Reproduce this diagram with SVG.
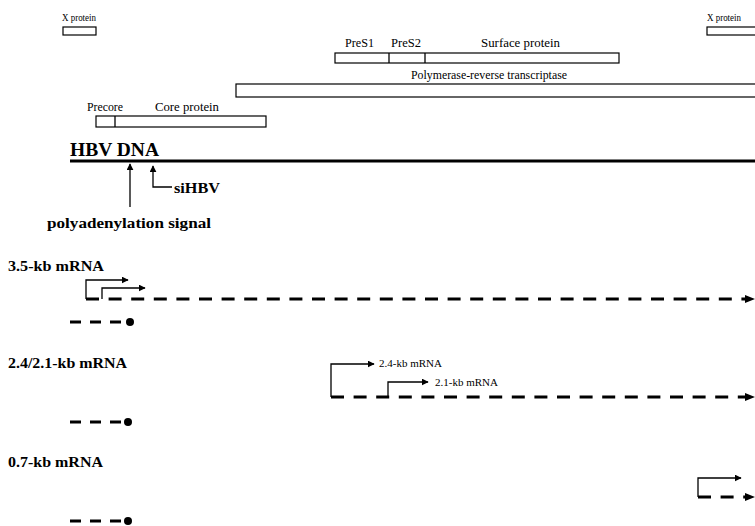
<svg xmlns="http://www.w3.org/2000/svg" width="755" height="526" viewBox="0 0 755 526">
<style>
.sm{font-family:"Liberation Serif","Times New Roman",serif;font-size:11.5px;fill:#000}
.bd{font-family:"Liberation Serif","Times New Roman",serif;font-size:15.5px;font-weight:bold;fill:#000}
.md{font-family:"Liberation Serif","Times New Roman",serif;font-size:11px;fill:#000}
.box{fill:#fff;stroke:#000;stroke-width:1.2}
.ln{fill:none;stroke:#000;stroke-width:1.3}
.ds{fill:none;stroke:#000;stroke-width:3;stroke-dasharray:13 9.6}
.sd{fill:none;stroke:#000;stroke-width:3;stroke-dasharray:11 9}
</style>
<defs>
<marker id="ah" viewBox="0 0 10 10" refX="9" refY="5" markerWidth="7" markerHeight="7" markerUnits="userSpaceOnUse" orient="auto"><path d="M0,0 L10,5 L0,10 z" fill="#000"/></marker>
</defs>
<g id="x-protein-left"><text class="sm" x="62" y="21" style="font-size:9.5px" textLength="34" lengthAdjust="spacingAndGlyphs">X protein</text><rect class="box" x="63" y="27" width="33" height="8"/></g>
<g id="x-protein-right"><text class="sm" x="707" y="21" style="font-size:9.5px" textLength="34" lengthAdjust="spacingAndGlyphs">X protein</text><rect class="box" x="707" y="27" width="60" height="8"/></g>
<g id="surface"><text class="sm" x="345" y="47" textLength="29" lengthAdjust="spacingAndGlyphs">PreS1</text><text class="sm" x="391" y="47" textLength="30" lengthAdjust="spacingAndGlyphs">PreS2</text><text class="sm" x="481" y="47" textLength="79" lengthAdjust="spacingAndGlyphs">Surface protein</text>
<rect class="box" x="335" y="53" width="284" height="10"/><line class="ln" x1="389" y1="53" x2="389" y2="63"/><line class="ln" x1="425" y1="53" x2="425" y2="63"/></g>
<g id="polymerase"><text class="sm" x="411" y="79" textLength="156" lengthAdjust="spacingAndGlyphs">Polymerase-reverse transcriptase</text><rect class="box" x="236" y="84" width="530" height="13"/></g>
<g id="core"><text class="sm" x="87" y="111" textLength="36" lengthAdjust="spacingAndGlyphs">Precore</text><text class="sm" x="155" y="111" textLength="64" lengthAdjust="spacingAndGlyphs">Core protein</text><rect class="box" x="96" y="116" width="170" height="11"/><line class="ln" x1="115" y1="116" x2="115" y2="127"/></g>
<g id="hbv-dna"><text class="bd" x="70" y="156" style="font-size:18.5px" textLength="89" lengthAdjust="spacingAndGlyphs">HBV DNA</text><line x1="70" y1="161" x2="755" y2="161" stroke="#000" stroke-width="3.2"/></g>
<g id="polyA"><text class="bd" x="47" y="228" style="font-size:14px" textLength="164" lengthAdjust="spacingAndGlyphs">polyadenylation signal</text></g>
<g id="sihbv"><text class="bd" x="174" y="193" style="font-size:15px" textLength="46" lengthAdjust="spacingAndGlyphs">siHBV</text></g>
<g id="label-35"><text class="bd" x="8" y="271" textLength="96" lengthAdjust="spacingAndGlyphs">3.5-kb mRNA</text></g>
<g id="label-24"><text class="bd" x="8" y="368" textLength="119" lengthAdjust="spacingAndGlyphs">2.4/2.1-kb mRNA</text></g>
<g id="label-07"><text class="bd" x="8" y="467" textLength="95" lengthAdjust="spacingAndGlyphs">0.7-kb mRNA</text></g>
<g id="label-24kb"><text class="md" x="379" y="367">2.4-kb mRNA</text></g>
<g id="label-21kb"><text class="md" x="435" y="386">2.1-kb mRNA</text></g>
<g id="connectors">
<path class="ln" d="M130,207 V164" marker-end="url(#ah)"/>
<path class="ln" d="M172,187 H153 V166" stroke-width="1.8" marker-end="url(#ah)"/>
<path class="ln" d="M86,299 V280 H128" marker-end="url(#ah)"/>
<path class="ln" d="M102,299 V288 H145" marker-end="url(#ah)"/>
<path class="ds" d="M86,299 H748"/><path d="M745,295 L755,299 L745,303 z"/>
<path class="sd" d="M70,322 H128"/><circle cx="130" cy="322" r="4"/>
<path class="ln" d="M331,397 V364 H374" marker-end="url(#ah)"/>
<path class="ln" d="M388,397 V382 H428" marker-end="url(#ah)"/>
<path class="ds" d="M331,397 H748"/><path d="M745,393 L755,397 L745,401 z"/>
<path class="sd" d="M70,422 H128"/><circle cx="128" cy="422" r="4"/>
<path class="ln" d="M698,497 V478 H741" marker-end="url(#ah)"/>
<path class="ds" d="M698,497 H748"/><path d="M745,493 L755,497 L745,501 z"/>
<path class="sd" d="M70,521 H128"/><circle cx="128" cy="521" r="4"/>
</g>
</svg>
